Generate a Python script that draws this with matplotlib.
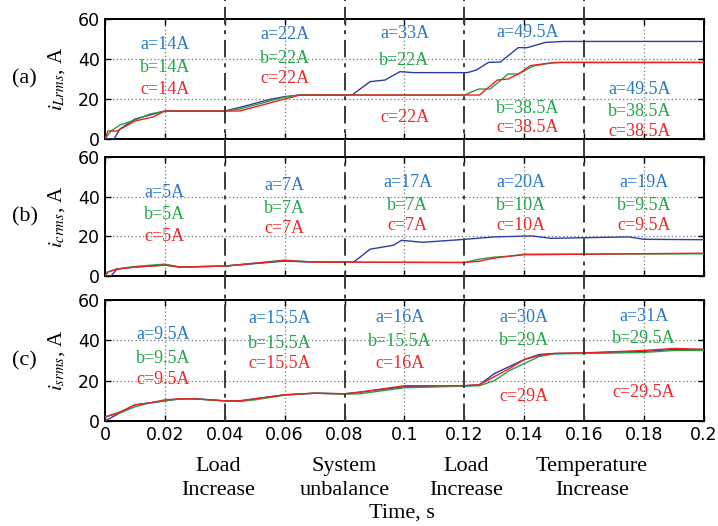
import matplotlib
matplotlib.use("Agg")
import matplotlib.pyplot as plt
from matplotlib.lines import Line2D
import matplotlib.transforms as mtrans

plt.rcParams['mathtext.fontset'] = 'stix'

# ---------------- data ----------------
# Panel (a): load current rms
ta_a = [0, 0.003, 0.005, 0.01, 0.015, 0.02, 0.04, 0.045, 0.05, 0.055, 0.06, 0.065, 0.0825, 0.0885, 0.0935,
        0.0985, 0.103, 0.121, 0.124, 0.128, 0.132, 0.138, 0.141, 0.147, 0.153, 0.2]
va_a = [0, 0, 5, 10, 12, 14, 14, 15.8, 17.8, 19.8, 21.2, 22, 22, 28.7, 29.5,
        33.7, 33.2, 33.2, 34.5, 38.3, 38.5, 45.7, 45.7, 48.3, 48.8, 48.8]
ta_b = [0, 0.002, 0.005, 0.01, 0.015, 0.02, 0.04, 0.045, 0.05, 0.055, 0.06, 0.065, 0.12, 0.1247, 0.1286,
        0.1346, 0.138, 0.143, 0.15, 0.2]
va_b = [0, 4, 7, 9.5, 12.5, 14, 14, 15, 17, 19, 21, 22, 22, 25, 25,
        32.5, 32.5, 36.5, 38.3, 38.3]
ta_c = [0, 0.001, 0.004, 0.01, 0.016, 0.02, 0.04, 0.045, 0.05, 0.055, 0.06, 0.065, 0.125, 0.131, 0.1346,
        0.138, 0.142, 0.1475, 0.152, 0.2]
va_c = [0, 4, 4, 9, 11, 14, 14, 14, 16, 18, 20, 22, 22, 29.5, 30,
        32.5, 36.7, 37.8, 38.3, 38.3]

# Panel (b): compensator current rms
tb_a = [0, 0.002, 0.004, 0.01, 0.02, 0.025, 0.04, 0.06, 0.07, 0.083, 0.085, 0.0885, 0.0963, 0.099, 0.106,
        0.1185, 0.13, 0.1425, 0.149, 0.175, 0.18, 0.2]
vb_a = [0, 0, 3.5, 4.5, 5.5, 4.5, 5, 7.5, 7, 7, 9.3, 13.5, 15.5, 18, 17,
        18.3, 19.7, 20.2, 19, 19.7, 18.5, 18.3]
tb_bc = [0, 0.001, 0.004, 0.01, 0.02, 0.025, 0.04, 0.06, 0.07, 0.12, 0.125, 0.13, 0.135, 0.14, 0.16, 0.2]
vb_b = [0, 2, 3.5, 4.8, 6, 4.5, 5, 8, 7, 6.8, 8.5, 9.5, 10, 11, 11, 11.2]
vb_c = [0, 2, 3.5, 4.5, 5.5, 4.5, 5, 7.8, 7, 6.8, 7.5, 9, 10, 10.7, 11, 11.5]

# Panel (c): source current rms
tc = [0, 0.005, 0.01, 0.015, 0.02, 0.025, 0.03, 0.04, 0.045, 0.05, 0.06, 0.07, 0.08, 0.085, 0.1,
      0.12, 0.125, 0.13, 0.135, 0.14, 0.145, 0.15, 0.16, 0.18, 0.19, 0.2]
vc_a = [0, 4, 8, 9, 10, 11, 11, 10, 10, 11, 13, 13.8, 13.5, 14.3, 17,
        17.5, 18, 23.5, 27, 30.5, 33, 33.5, 33.7, 34.5, 35.5, 35.5]
vc_b = [2, 4, 7, 9, 10, 11, 11, 10, 9.7, 10.5, 12.8, 13.8, 13.3, 13.5, 16.5,
        17.3, 17.5, 20, 25, 28.5, 32, 33.3, 33.5, 34, 35, 35]
vc_c = [2, 4.5, 8, 9, 10.5, 11, 11, 10, 10, 11, 13, 13.8, 13.5, 14.3, 17.5,
        17.5, 18, 22, 26, 30.5, 32.5, 33.5, 33.8, 35, 36, 35.5]

# annotation texts: (x, y, text)
ann_a = [
    (0.02, 47.5, "a=14A"), (0.02, 36, "b=14A"), (0.02, 25, "c=14A"),
    (0.06, 52.5, "a=22A"), (0.06, 40.5, "b=22A"), (0.06, 30.5, "c=22A"),
    (0.10, 53, "a=33A"), (0.10, 39.5, "b=22A"), (0.10, 11, "c=22A"),
    (0.141, 53.5, "a=49.5A"), (0.141, 15.5, "b=38.5A"), (0.141, 6, "c=38.5A"),
    (0.1786, 25, "a=49.5A"), (0.1786, 14, "b=38.5A"), (0.1786, 4, "c=38.5A"),
]
ann_b = [
    (0.02, 42, "a=5A"), (0.02, 31, "b=5A"), (0.02, 20, "c=5A"),
    (0.06, 45.5, "a=7A"), (0.06, 34, "b=7A"), (0.06, 24, "c=7A"),
    (0.101, 47, "a=17A"), (0.101, 35.5, "b=7A"), (0.101, 25.5, "c=7A"),
    (0.139, 47, "a=20A"), (0.139, 35.5, "b=10A"), (0.139, 25.5, "c=10A"),
    (0.18, 47, "a=19A"), (0.18, 35.5, "b=9.5A"), (0.18, 25.5, "c=9.5A"),
]
ann_c = [
    (0.0194, 42.7, "a=9.5A"), (0.0194, 31, "b=9.5A"), (0.0194, 20.5, "c=9.5A"),
    (0.0585, 51, "a=15.5A"), (0.0585, 38.5, "b=15.5A"), (0.0585, 28.5, "c=15.5A"),
    (0.0985, 51.3, "a=16A"), (0.0985, 39.3, "b=15.5A"), (0.0985, 28.5, "c=16A"),
    (0.14, 51.3, "a=30A"), (0.14, 39.7, "b=29A"), (0.14, 12, "c=29A"),
    (0.18, 52, "a=31A"), (0.18, 41, "b=29.5A"), (0.18, 14, "c=29.5A"),
]

events_t = [0.04, 0.08, 0.12, 0.16]
event_labels = [(0.0377, "Load\nIncrease"), (0.08, "System\nunbalance"),
                (0.1205, "Load\nIncrease"), (0.1626, "Temperature\nIncrease")]
xticks = [0, 0.02, 0.04, 0.06, 0.08, 0.1, 0.12, 0.14, 0.16, 0.18, 0.2]
xticklabels = ["0", "0.02", "0.04", "0.06", "0.08", "0.1", "0.12", "0.14", "0.16", "0.18", "0.2"]
yticks = [0, 20, 40, 60]

# ---------------- style ----------------
LINE_A, LINE_B, LINE_C = "#2b3ea6", "#2a9e45", "#ee2020"
TXT_A, TXT_B, TXT_C = "#2a78c4", "#22a64a", "#ee2828"
txt_col = {"a": TXT_A, "b": TXT_B, "c": TXT_C}
SERIF = ["Liberation Serif", "DejaVu Serif"]

fig = plt.figure(figsize=(7.18, 5.26), dpi=100)
L, W = 0.1462, 0.8343
ax_a = fig.add_axes([L, 0.7357, W, 0.2281])
ax_b = fig.add_axes([L, 0.4753, W, 0.2262])
ax_c = fig.add_axes([L, 0.1996, W, 0.2300])

panels = [
    (ax_a, [(ta_a, va_a, LINE_A), (ta_b, va_b, LINE_B), (ta_c, va_c, LINE_C)], ann_a, "(a)", "$i_{Lrms}$, A"),
    (ax_b, [(tb_a, vb_a, LINE_A), (tb_bc, vb_b, LINE_B), (tb_bc, vb_c, LINE_C)], ann_b, "(b)", "$i_{crms}$, A"),
    (ax_c, [(tc, vc_a, LINE_A), (tc, vc_b, LINE_B), (tc, vc_c, LINE_C)], ann_c, "(c)", "$i_{srms}$, A"),
]

for ax, series, ann, tag, ylab in panels:
    for t, v, col in series:
        ax.plot(t, v, color=col, lw=1.0, zorder=3)
    ax.set_xlim(0, 0.2)
    ax.set_ylim(0, 60)
    ax.set_yticks(yticks)
    ax.set_xticks(xticks)
    grid_x = [x for x in xticks if x not in events_t and 0 < x < 0.2]
    for gx in grid_x:
        ax.axvline(gx, color="#777777", lw=0.9, ls=(0, (1, 2)), zorder=1)
    for gy in [20, 40]:
        ax.axhline(gy, color="#777777", lw=0.9, ls=(0, (1, 2)), zorder=1)
    ax.tick_params(direction="in", top=True, right=True, length=4, width=1, labelsize=12.5)
    for s in ax.spines.values():
        s.set_linewidth(1.4)
    for x, y, s in ann:
        ax.text(x, y, s, color=txt_col[s[0]], ha="center", va="center", fontsize=13,
                family=SERIF, zorder=4)
    ax.set_ylabel(ylab, fontsize=15, family=SERIF, labelpad=2)
    ax.yaxis.set_label_coords(-0.063, 0.5)
    ax.text(-0.134, 0.5, tag, transform=ax.transAxes, fontsize=16, family=SERIF,
            ha="center", va="center")

ax_a.set_xticklabels([])
ax_b.set_xticklabels([])
ax_c.set_xticklabels(xticklabels)

# event dash-dot lines spanning the whole figure height down to panel (c)
blend = mtrans.blended_transform_factory(ax_c.transData, fig.transFigure)
for et in events_t:
    fig.add_artist(Line2D([et, et], [0.1996, 1.0], transform=blend, color="#3a3a3a", lw=1.4,
                          ls=(0, (9, 3, 2, 3)), zorder=5))

# event labels under the axis
for et, s in event_labels:
    fig.text(et, 0.0895, s, transform=blend, ha="center", va="center", fontsize=16,
             family=SERIF, linespacing=1.35)
fig.text(0.099, 0.025, "Time, s", transform=blend, ha="center", va="center", fontsize=16,
         family=SERIF)

fig.savefig("out.png", dpi=100)
